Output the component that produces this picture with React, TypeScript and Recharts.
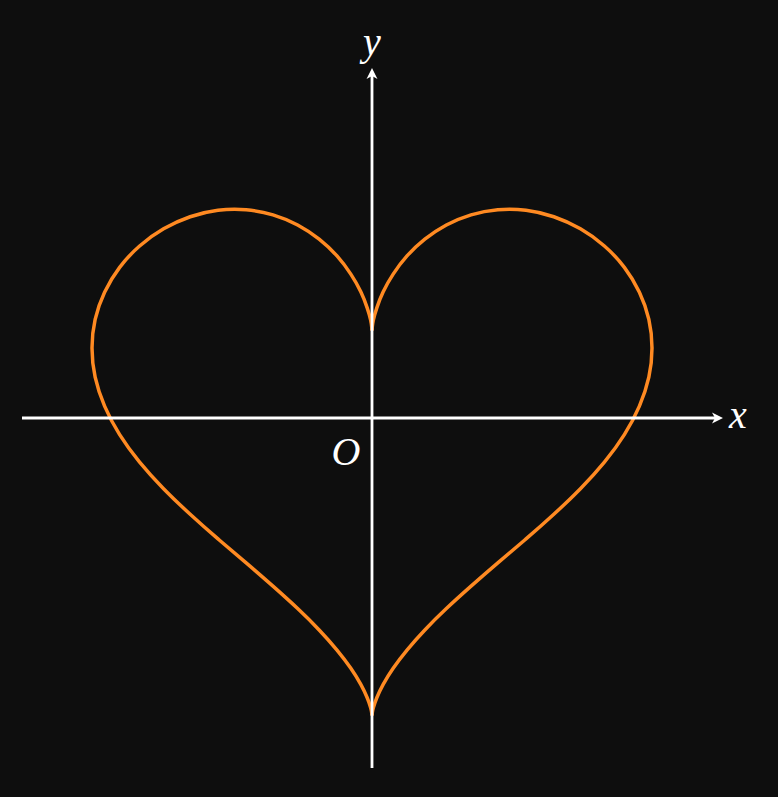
import React from 'react';
import { LineChart, Line, XAxis, YAxis, ReferenceLine, ReferenceDot } from 'recharts';

// Right half of the heart, from the top notch down to the bottom point
const rightX = [0, 0.01, 0.08, 0.28, 0.64, 1.21, 2.0, 3.02, 4.25, 5.66, 7.19, 8.8, 10.39, 11.91, 13.28, 14.42, 15.28, 15.82, 16, 15.82, 15.28, 14.42, 13.28, 11.91, 10.39, 8.8, 7.19, 5.66, 4.25, 3.02, 2.0, 1.21, 0.64, 0.28, 0.08, 0.01, 0];
const rightY = [5, 5.15, 5.61, 6.31, 7.21, 8.22, 9.26, 10.22, 11.03, 11.61, 11.9, 11.87, 11.5, 10.81, 9.83, 8.61, 7.19, 5.64, 4, 2.33, 0.68, -0.95, -2.52, -4.04, -5.5, -6.91, -8.28, -9.61, -10.89, -12.11, -13.26, -14.3, -15.22, -15.97, -16.54, -16.88, -17];

// Left half of the heart, from the top notch down to the bottom point
const leftX = [0, -0.01, -0.08, -0.28, -0.64, -1.21, -2.0, -3.02, -4.25, -5.66, -7.19, -8.8, -10.39, -11.91, -13.28, -14.42, -15.28, -15.82, -16, -15.82, -15.28, -14.42, -13.28, -11.91, -10.39, -8.8, -7.19, -5.66, -4.25, -3.02, -2.0, -1.21, -0.64, -0.28, -0.08, -0.01, 0];
const leftY = [5, 5.15, 5.61, 6.31, 7.21, 8.22, 9.26, 10.22, 11.03, 11.61, 11.9, 11.87, 11.5, 10.81, 9.83, 8.61, 7.19, 5.64, 4, 2.33, 0.68, -0.95, -2.52, -4.04, -5.5, -6.91, -8.28, -9.61, -10.89, -12.11, -13.26, -14.3, -15.22, -15.97, -16.54, -16.88, -17];

const xRange = [-20, 20];
const yRange = [-20, 20];
const xLabel = 'x';
const yLabel = 'y';
const originLabel = 'O';

const rightHalf = rightX.map((x, i) => ({ x, y: rightY[i] }));
const leftHalf = leftX.map((x, i) => ({ x, y: leftY[i] }));

const BG = '#0e0e0e';
const CURVE = '#ff8a22';
const AXIS = '#ffffff';
const FONT = '"Liberation Serif", "DejaVu Serif", serif';

const XAxisShape = (p: any) => {
  const { x1, y1, x2 } = p;
  const tip = x2 + 1;
  return (
    <g>
      <line x1={x1} y1={y1} x2={tip - 8} y2={y1} stroke={AXIS} strokeWidth={2.8} />
      <path d={`M${tip},${y1} L${tip - 11},${y1 - 5.5} L${tip - 8},${y1} L${tip - 11},${y1 + 5.5} Z`} fill={AXIS} />
      <text x={tip + 6} y={y1 + 10} fill={AXIS} fontFamily={FONT} fontStyle="italic" fontSize={40}>
        {xLabel}
      </text>
    </g>
  );
};

const YAxisShape = (p: any) => {
  const { x1, y1, y2 } = p;
  const tip = y2;
  return (
    <g>
      <line x1={x1} y1={y1} x2={x1} y2={tip + 8} stroke={AXIS} strokeWidth={2.8} />
      <path d={`M${x1},${tip} L${x1 - 5.5},${tip + 11} L${x1},${tip + 8} L${x1 + 5.5},${tip + 11} Z`} fill={AXIS} />
      <text x={x1} y={tip - 13} fill={AXIS} fontFamily={FONT} fontStyle="italic" fontSize={40} textAnchor="middle">
        {yLabel}
      </text>
    </g>
  );
};

const OriginShape = (p: any) => {
  const { cx, cy } = p;
  return (
    <text x={cx - 26} y={cy + 47} fill={AXIS} fontFamily={FONT} fontStyle="italic" fontSize={40} textAnchor="middle">
      {originLabel}
    </text>
  );
};

export default function App() {
  return (
    <div style={{ position: 'absolute', left: 0, top: 0, width: 778, height: 797, background: BG }}>
      <LineChart width={778} height={797} margin={{ top: 68, right: 56, bottom: 29, left: 22 }}>
        <XAxis type="number" dataKey="x" domain={xRange} hide allowDataOverflow />
        <YAxis type="number" dataKey="y" domain={yRange} hide allowDataOverflow />
        <Line data={rightHalf} dataKey="y" type="natural" stroke={CURVE} strokeWidth={3.5} dot={false} isAnimationActive={false} />
        <Line data={leftHalf} dataKey="y" type="natural" stroke={CURVE} strokeWidth={3.5} dot={false} isAnimationActive={false} />
        <ReferenceLine segment={[{ x: xRange[0], y: 0 }, { x: xRange[1], y: 0 }]} shape={XAxisShape} ifOverflow="visible" zIndex={600} />
        <ReferenceLine segment={[{ x: 0, y: yRange[0] }, { x: 0, y: yRange[1] }]} shape={YAxisShape} ifOverflow="visible" zIndex={600} />
        <ReferenceDot x={0} y={0} shape={OriginShape} ifOverflow="visible" zIndex={600} />
      </LineChart>
    </div>
  );
}
